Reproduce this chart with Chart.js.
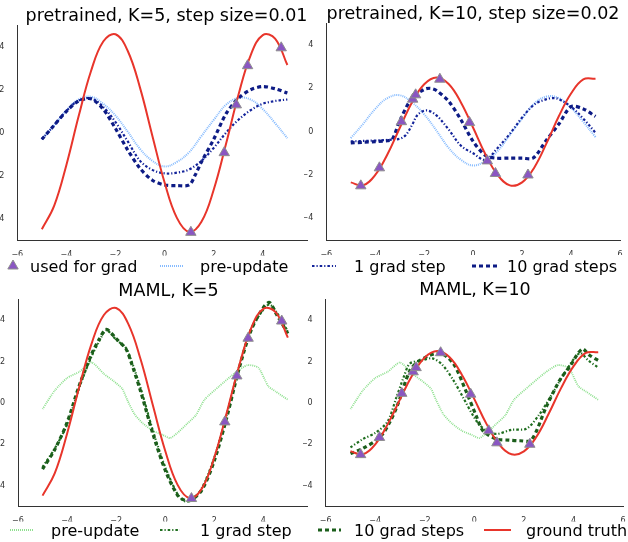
<!DOCTYPE html>
<html><head><meta charset="utf-8">
<script src="https://cdn.jsdelivr.net/npm/chart.js@4.4.1/dist/chart.umd.min.js"></script>
<style>
html,body{margin:0;padding:0;background:#fff;}
body{width:628px;height:542px;overflow:hidden;position:relative;font-family:"DejaVu Sans",sans-serif;}
canvas{position:absolute;}
.title{position:absolute;font-size:17.5px;line-height:17.5px;color:#000;white-space:nowrap;transform:translateX(-50%);}
.leg{position:absolute;font-size:16px;line-height:16px;color:#000;white-space:nowrap;}
#legsvg{position:absolute;left:0;top:0;}
</style></head><body>
<canvas id="c1"></canvas><canvas id="c2"></canvas><canvas id="c3"></canvas><canvas id="c4"></canvas>
<svg id="legsvg" width="628" height="542"></svg>
<script>
// ---------- data ----------
const xTicks = [-6, -4, -2, 0, 2, 4, 6];
const yTicks = [-4, -2, 0, 2, 4];
const xGrid = [-5,-4.5,-4,-3.5,-3,-2.5,-2,-1.5,-1,-0.5,0,0.5,1,1.5,2,2.5,3,3.5,4,4.5,5];

const truthK5  = [-4.48,-3.39,-1.49,0.78,2.86,4.24,4.58,3.80,2.09,-0.13,-2.31,-3.95,-4.60,-4.13,-2.64,-0.52,1.73,3.59,4.54,4.38,3.15];
const truthK10 = [-2.34,-2.48,-2.00,-1.04,0.17,1.35,2.19,2.50,2.20,1.35,0.18,-1.04,-2.00,-2.48,-2.34,-1.65,-0.53,0.71,1.76,2.41,2.44];

const gradK5X  = [1.07, 2.43, 2.92, 3.38, 4.75];
const gradK5Y  = [-4.62, -0.92, 1.30, 3.12, 3.95];
const gradK10X = [-4.59, -3.83, -2.93, -2.47, -2.35, -1.36, -0.15, 0.58, 0.91, 2.24];
const gradK10Y = [-2.50, -1.67, 0.46, 1.50, 1.70, 2.42, 0.42, -1.35, -1.93, -2.00];

const pretrainedPre = [-0.3,0.35,1.05,1.55,1.68,1.35,0.8,0.05,-0.75,-1.3,-1.56,-1.35,-0.9,-0.15,0.6,1.3,1.62,1.55,1.1,0.45,-0.25];
const pretrainedK5Step1 = [-0.3,0.35,1.02,1.5,1.6,1.2,0.5,-0.4,-1.3,-1.72,-1.88,-1.85,-1.7,-1.3,-0.7,0.0,0.6,1.05,1.35,1.48,1.55];
const pretrainedK5Step10X = [-5,-4.5,-4,-3.5,-3,-2.5,-2,-1.5,-1,-0.5,0,0.5,1,1.25,1.5,2,2.5,3,3.5,4,4.5,5];
const pretrainedK5Step10  = [-0.3,0.35,1.0,1.48,1.58,1.1,0.2,-0.8,-1.65,-2.2,-2.42,-2.45,-2.42,-1.95,-1.35,-0.3,0.88,1.6,2.0,2.15,2.05,1.85];

const pretrainedK10Step1X = [-5,-4.5,-4,-3.5,-3,-2.75,-2.5,-2.25,-1.9,-1.5,-1,-0.5,0,0.5,1,1.5,2,2.5,3,3.3,3.5,4,4.5,5];
const pretrainedK10Step1  = [-0.45,-0.43,-0.41,-0.38,-0.33,-0.15,0.3,0.8,0.98,0.75,0.1,-0.65,-1.0,-1.3,-0.75,-0.1,0.65,1.25,1.5,1.55,1.5,1.15,0.6,-0.05];
const pretrainedK10Step10X = [-5,-4.5,-4,-3.5,-3.3,-3,-2.5,-2,-1.75,-1.5,-1,-0.5,0,0.5,0.9,1.5,2,2.45,3,3.5,4,4.5,5];
const pretrainedK10Step10  = [-0.52,-0.49,-0.46,-0.42,-0.35,0.5,1.55,1.95,2.0,1.9,1.4,0.55,-0.45,-1.1,-1.22,-1.22,-1.22,-1.22,-0.38,0.35,1.15,1.05,0.7];

const mamlPreX = [-5,-4.5,-4,-3.5,-3,-2.5,-2.1,-1.75,-1.55,-1.25,-0.9,-0.5,-0.1,0.2,0.5,0.9,1.25,1.6,2.2,2.85,3.35,3.8,4.2,4.5,5];
const mamlPre  = [-0.3,0.6,1.2,1.5,1.95,1.4,1.05,0.68,0.15,-0.55,-1.0,-1.35,-1.55,-1.7,-1.45,-1.0,-0.6,0.15,0.8,1.45,1.82,1.7,0.8,0.55,0.15];

const mamlK5X      = [-5,-4.5,-4,-3.5,-3,-2.7,-2.4,-2,-1.6,-1.4,-1,-0.5,0,0.5,0.8,1.1,1.5,2,2.5,3,3.5,4,4.25,4.5,5];
const mamlK5Step1  = [-3.1,-2.2,-1.05,0.75,2.25,2.95,3.5,3.05,2.65,2.1,0.7,-1.35,-3.1,-4.4,-4.75,-4.7,-4.1,-2.65,-0.6,1.7,3.55,4.5,4.75,4.45,3.45];
const mamlK5Step10 = [-3.2,-2.25,-0.95,0.85,2.35,3.05,3.55,3.1,2.6,2.0,0.55,-1.5,-3.25,-4.45,-4.7,-4.65,-4.2,-2.8,-0.75,1.6,3.5,4.6,4.85,4.35,3.35];

const mamlK10Step1X  = [-5,-4.5,-4,-3.5,-3.15,-2.85,-2.6,-2.1,-1.7,-1.3,-0.85,-0.45,0.1,0.5,0.9,1.5,2.1,2.6,3.15,3.7,4.25,4.6,5];
const mamlK10Step1   = [-2.15,-1.75,-1.45,-0.9,0.25,1.25,1.9,2.05,2.15,1.85,1.1,0.25,-0.9,-1.35,-1.5,-1.3,-1.25,-0.6,0.45,1.55,2.4,2.05,1.7];
const mamlK10Step10X = [-5,-4.5,-3.8,-3.4,-3.1,-2.6,-2.2,-1.4,-0.85,-0.35,0.1,0.35,0.9,1.4,1.85,2.3,2.9,3.45,3.85,4.35,4.65,5];
const mamlK10Step10  = [-2.45,-2.2,-1.65,-0.9,-0.1,1.55,2.05,2.4,1.9,0.6,-0.7,-1.35,-1.75,-1.8,-1.83,-1.8,-0.2,1.1,1.75,2.6,2.3,2.05];

const titles = ['pretrained, K=5, step size=0.01', 'pretrained, K=10, step size=0.02', 'MAML, K=5', 'MAML, K=10'];
const legendTop = ['used for grad', 'pre-update', '1 grad step', '10 grad steps'];
const legendBottom = ['pre-update', '1 grad step', '10 grad steps', 'ground truth'];

// ---------- styles ----------
const STY = {
  tri:   {showLine:false, pointStyle:'triangle', pointRadius:6, pointBackgroundColor:'#8a56c2', pointBorderColor:'#8e8e8e', pointBorderWidth:1, clip:false},
  truth: {borderColor:'#e8352b', borderWidth:2, tension:0.4},
  bPre:  {borderColor:'#86bbff', borderWidth:2, borderDash:[1,1], tension:0.4},
  b1:    {borderColor:'#13239a', borderWidth:2.2, borderDash:[2.5,2,1.2,2], tension:0.35},
  b10:   {borderColor:'#0d1b85', borderWidth:3.2, borderDash:[4,3], tension:0.3},
  gPre:  {borderColor:'#8fe08f', borderWidth:1.8, borderDash:[1,1], tension:0.2},
  g1:    {borderColor:'#1f6e1f', borderWidth:2.2, borderDash:[2.5,2,1.2,2], tension:0.3},
  g10:   {borderColor:'#1b5e1b', borderWidth:3.2, borderDash:[4,3], tension:0.3},
};

function pts(xs, ys) { return xs.map((x, i) => ({x: x, y: ys[i]})); }
function line(xs, ys, sty) {
  return Object.assign({data: pts(xs, ys), pointRadius:0, fill:false}, sty);
}
function tri(xs, ys) { return Object.assign({data: pts(xs, ys)}, STY.tri); }
function fmtTick(v) { return v < 0 ? '\u2212' + Math.abs(v) : String(v); }

function makePlot(id, area, xr, datasets) {
  const Hx = 15, padTop = 10, padBot = 2, padRight = area.padR;
  const CL = Math.floor(area.L - 22);
  const Wy = area.L - CL;
  const CT = Math.floor(area.T - padTop);
  const pT = area.T - CT;
  const W = Math.ceil(area.R + padRight) - CL;
  const pR = CL + W - area.R;
  const H = Math.ceil(area.B + Hx + padBot) - CT;
  const pB = CT + H - area.B - Hx;
  const cv = document.getElementById(id);
  cv.width = W; cv.height = H;
  cv.style.left = CL + 'px'; cv.style.top = CT + 'px';
  cv.style.width = W + 'px'; cv.style.height = H + 'px';
  const tickFont = {family:'DejaVu Sans', size:8};
  new Chart(cv, {
    type: 'line',
    data: {datasets: datasets},
    options: {
      responsive:false, animation:false, events:[], devicePixelRatio:1,
      layout: {padding: {left:0, top:pT, right:pR, bottom:pB}},
      plugins: {legend:{display:false}, tooltip:{enabled:false}, title:{display:false}},
      scales: {
        x: {type:'linear', min:xr[0], max:xr[1],
            grid:{display:false}, border:{display:true, color:'#333', width:1},
            ticks:{font:tickFont, color:'#333', padding:2, maxRotation:0, autoSkip:false, callback: fmtTick},
            afterBuildTicks: s => { s.ticks = xTicks.filter(v => v >= xr[0] - 1e-9 && v <= xr[1] + 1e-9).map(v => ({value:v})); },
            afterFit: s => { s.height = Hx; }},
        y: {type:'linear', min:-5, max:5,
            grid:{display:false}, border:{display:true, color:'#333', width:1},
            ticks:{font:tickFont, color:'#333', padding:5, autoSkip:false, callback: fmtTick},
            afterBuildTicks: s => { s.ticks = yTicks.map(v => ({value:v})); },
            afterFit: s => { s.width = Wy; }}
      }
    }
  });
}

makePlot('c1', {L:17.3, T:25.2, R:314, B:240.5, padR:0}, [-6, 5.80], [
  tri(gradK5X, gradK5Y),
  line(xGrid, truthK5, STY.truth),
  line(pretrainedK5Step10X, pretrainedK5Step10, STY.b10),
  line(xGrid, pretrainedK5Step1, STY.b1),
  line(xGrid, pretrainedPre, STY.bPre),
]);
makePlot('c2', {L:326.3, T:23.3, R:621, B:240, padR:6}, [-6, 6], [
  tri(gradK10X, gradK10Y),
  line(xGrid, truthK10, STY.truth),
  line(pretrainedK10Step10X, pretrainedK10Step10, STY.b10),
  line(pretrainedK10Step1X, pretrainedK10Step1, STY.b1),
  line(xGrid, pretrainedPre, STY.bPre),
]);
makePlot('c3', {L:18, T:299.3, R:314, B:506.4, padR:0}, [-6, 5.78], [
  tri(gradK5X, gradK5Y),
  line(xGrid, truthK5, STY.truth),
  line(mamlK5X, mamlK5Step10, STY.g10),
  line(mamlK5X, mamlK5Step1, STY.g1),
  line(mamlPreX, mamlPre, STY.gPre),
]);
makePlot('c4', {L:325.7, T:299.3, R:624, B:506.4, padR:6}, [-6, 6], [
  tri(gradK10X, gradK10Y),
  line(xGrid, truthK10, STY.truth),
  line(mamlK10Step10X, mamlK10Step10, STY.g10),
  line(mamlK10Step1X, mamlK10Step1, STY.g1),
  line(mamlPreX, mamlPre, STY.gPre),
]);

// ---------- titles ----------
const titlePos = [[166.5, 7.2], [473, 4.5], [168.5, 281.9], [475, 281.2]];
titles.forEach((t, i) => {
  const d = document.createElement('div');
  d.className = 'title'; d.textContent = t;
  d.style.left = titlePos[i][0] + 'px'; d.style.top = titlePos[i][1] + 'px';
  document.body.appendChild(d);
});

// ---------- legends ----------
const svg = document.getElementById('legsvg');
const NS = 'http://www.w3.org/2000/svg';
function addText(t, x, top) {
  const d = document.createElement('div');
  d.className = 'leg'; d.textContent = t;
  d.style.left = x + 'px'; d.style.top = top + 'px';
  document.body.appendChild(d);
}
function addLine(x1, x2, y, sty) {
  const l = document.createElementNS(NS, 'line');
  l.setAttribute('x1', x1); l.setAttribute('x2', x2);
  l.setAttribute('y1', y); l.setAttribute('y2', y);
  l.setAttribute('stroke', sty.borderColor);
  l.setAttribute('stroke-width', sty.borderWidth);
  if (sty.borderDash) l.setAttribute('stroke-dasharray', sty.borderDash.join(' '));
  svg.appendChild(l);
}
function addTri(cx, cy, r) {
  const p = document.createElementNS(NS, 'polygon');
  const pts = [[cx, cy - r], [cx + r * 0.866, cy + r * 0.5], [cx - r * 0.866, cy + r * 0.5]];
  p.setAttribute('points', pts.map(a => a.join(',')).join(' '));
  p.setAttribute('fill', STY.tri.pointBackgroundColor);
  p.setAttribute('stroke', STY.tri.pointBorderColor);
  p.setAttribute('stroke-width', 1);
  svg.appendChild(p);
}
const topTextX = [30, 200, 354, 507], topY = 266, topTextTop = 258.5;
addTri(13, topY, 6);
addLine(160, 183, topY, STY.bPre);
addLine(312, 336, topY, STY.b1);
addLine(472, 497, topY, STY.b10);
legendTop.forEach((t, i) => addText(t, topTextX[i], topTextTop));

const botTextX = [51, 200, 354, 526], botY = 530, botTextTop = 523;
addLine(10, 34, botY, STY.gPre);
addLine(160, 180, botY, STY.g1);
addLine(318, 341, botY, STY.g10);
addLine(484, 511, botY, STY.truth);
legendBottom.forEach((t, i) => addText(t, botTextX[i], botTextTop));
</script>
</body></html>
